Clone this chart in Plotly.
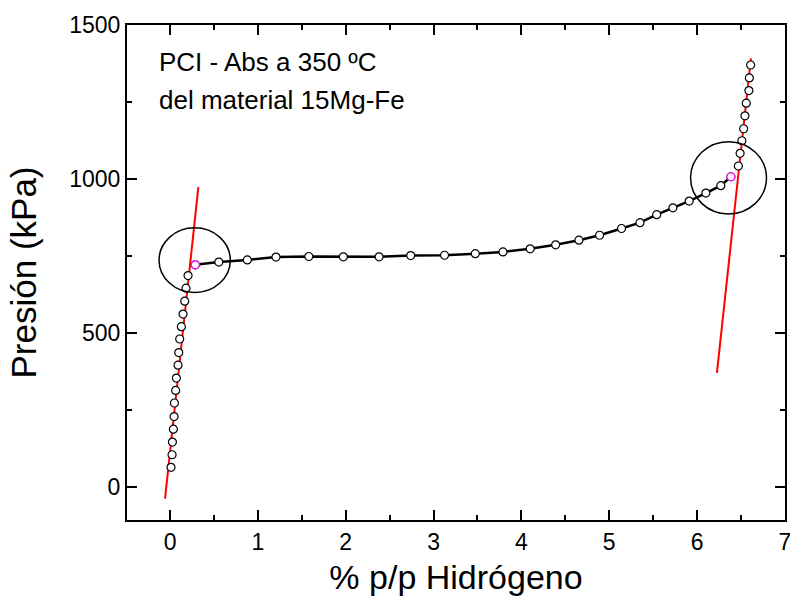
import plotly.graph_objects as go

# PCI absorption isotherm, 350 ºC, 15Mg-Fe
wt_h = [0.011, 0.023, 0.027, 0.038, 0.046, 0.050, 0.064, 0.072, 0.091, 0.099,
        0.110, 0.129, 0.148, 0.167, 0.182, 0.205,
        0.288,
        0.555, 0.880, 1.206, 1.580, 1.973, 2.380, 2.740, 3.125, 3.475, 3.790,
        4.100, 4.390, 4.655, 4.890, 5.140, 5.350, 5.540, 5.725, 5.910, 6.100,
        6.270,
        6.385,
        6.470, 6.490, 6.510, 6.530, 6.545, 6.560, 6.590, 6.595, 6.610]
p_kpa = [63, 104, 145, 187, 228, 272, 313, 353, 395, 436,
         480, 520, 561, 603, 645, 686,
         721,
         730, 737, 746, 748, 747, 747, 751, 752, 757, 763,
         773, 786, 801, 817, 839, 858, 884, 906, 928, 954,
         978,
         1007,
         1042, 1083, 1124, 1163, 1205, 1246, 1287, 1328, 1370]

# indices of the two highlighted points (plateau start / end)
i_start = 16
i_end = 38

# linear fits drawn in red
fit_left_x = [-0.057, 0.322]
fit_left_y = [-39, 973]
fit_right_x = [6.226, 6.613]
fit_right_y = [370, 1392]

# ellipses marking the plateau limits: (x0, x1, y0, y1)
ellipse_left = (-0.125, 0.686, 631, 841)
ellipse_right = (5.926, 6.790, 886, 1121)

FONT = "Liberation Sans, Arial, sans-serif"

fig = go.Figure()

# connecting line only across the plateau (steep parts are symbol-to-symbol)
fig.add_trace(go.Scatter(
    x=wt_h[i_start:i_end + 1], y=p_kpa[i_start:i_end + 1],
    mode="lines", line=dict(color="black", width=2.5),
    hoverinfo="skip", showlegend=False,
))
for fx, fy in ((fit_left_x, fit_left_y), (fit_right_x, fit_right_y)):
    fig.add_trace(go.Scatter(
        x=fx, y=fy, mode="lines", line=dict(color="#ff0000", width=2),
        hoverinfo="skip", showlegend=False,
    ))
fig.add_trace(go.Scatter(
    x=wt_h, y=p_kpa, mode="markers",
    marker=dict(symbol="circle", size=8, color="white",
                line=dict(color="black", width=1.2)),
    showlegend=False,
))
fig.add_trace(go.Scatter(
    x=[wt_h[i_start], wt_h[i_end]], y=[p_kpa[i_start], p_kpa[i_end]],
    mode="markers",
    marker=dict(symbol="circle", size=8, color="white",
                line=dict(color="#ff00ff", width=1.2)),
    showlegend=False,
))

for x0, x1, y0, y1 in (ellipse_left, ellipse_right):
    fig.add_shape(type="circle", xref="x", yref="y", x0=x0, x1=x1, y0=y0, y1=y1,
                  line=dict(color="black", width=1.5), layer="above")

for txt, yy in (("PCI - Abs a 350 ºC", 1380), ("del material 15Mg-Fe", 1257)):
    fig.add_annotation(x=-0.148, y=yy, text=txt, showarrow=False,
                       xanchor="left", yanchor="middle",
                       font=dict(family=FONT, size=26, color="black"))

axis_common = dict(
    showline=True, linecolor="black", linewidth=2, mirror="allticks",
    ticks="inside", ticklen=10, tickwidth=1.5, tickcolor="black",
    showgrid=False, zeroline=False, automargin=False,
    ticklabeloverflow="allow",
    tickfont=dict(family=FONT, size=23, color="black"),
)
fig.update_xaxes(
    range=[-0.49, 7.001], tickmode="linear", tick0=0, dtick=1,
    minor=dict(dtick=0.5, ticks="inside", ticklen=5, tickwidth=1.5, tickcolor="black"),
    title=dict(text="% p/p Hidrógeno", font=dict(family=FONT, size=34, color="black"),
               standoff=12),
    **axis_common,
)
fig.update_yaxes(
    range=[-108, 1500], tickmode="linear", tick0=0, dtick=500,
    minor=dict(dtick=250, ticks="inside", ticklen=5, tickwidth=1.5, tickcolor="black"),
    title=dict(text="Presión (kPa)", font=dict(family=FONT, size=35, color="black"),
               standoff=22),
    **axis_common,
)
fig.update_layout(
    width=790, height=597,
    margin=dict(l=127, r=5, t=25, b=77),
    plot_bgcolor="white", paper_bgcolor="white",
)
# drop the page's default body margin so the figure sits at the window's corner
fig.write_html("out.html", config={"displayModeBar": False},
               post_script="document.body.style.margin='0';")
